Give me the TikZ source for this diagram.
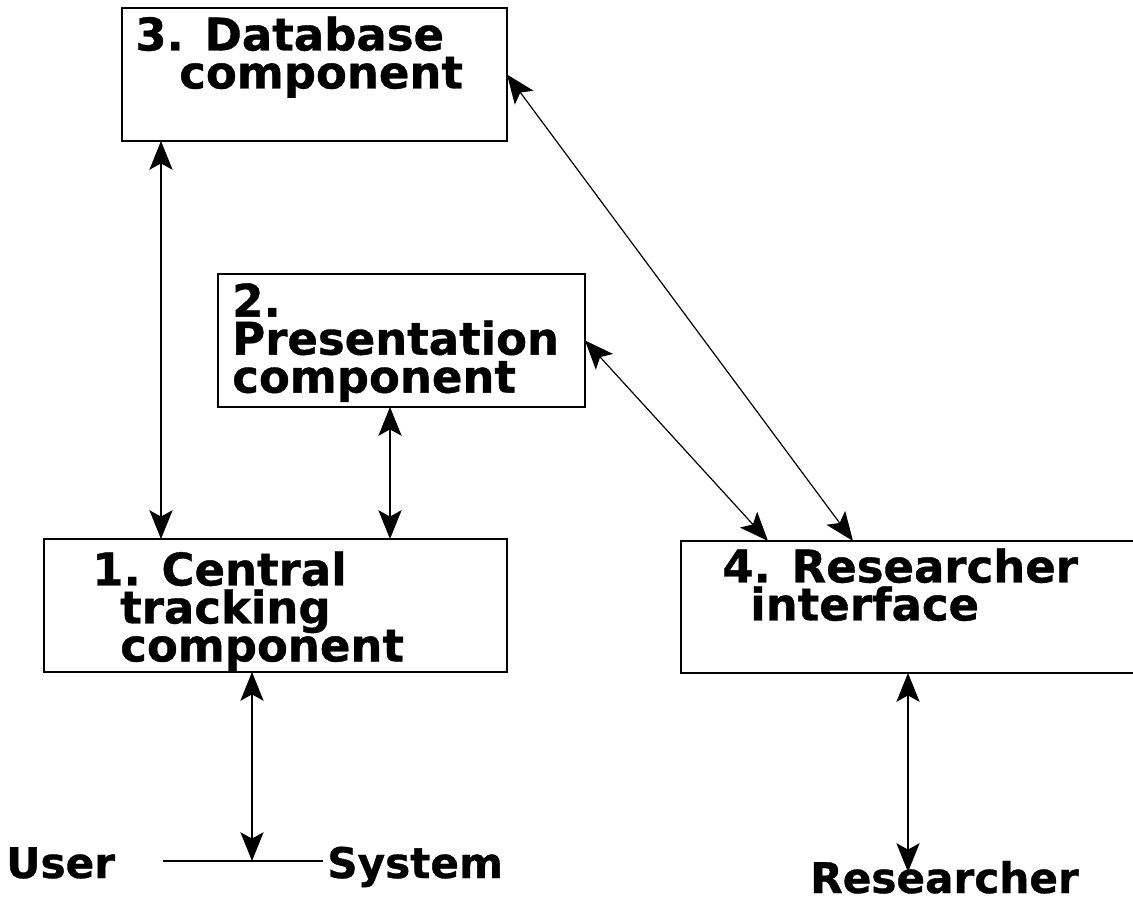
\documentclass[tikz,border=0pt]{standalone}
\usepackage{fontspec}
\setmainfont{DejaVu Sans}[BoldFeatures={FakeBold=0.8}]
\usetikzlibrary{arrows.meta}

\newlength{\du}
\setlength{\du}{0.025cm}
\newcommand{\compfont}{\fontsize{32}{27}\selectfont\bfseries\lineskiplimit=-40pt\relax}

\tikzset{
  compbox/.style={draw, line width=2\du, inner sep=0pt, outer sep=0pt, anchor=north west},
  comptext/.style={anchor=north west, inner sep=0pt, align=left, font=\compfont},
  actor/.style={anchor=base west, inner sep=0pt,
    font=\fontsize{30}{36}\selectfont\bfseries},
  link/.style={line width=1.2\du,
    {Stealth[length=0.72cm,width=0.58cm,inset=0.16cm]}-{Stealth[length=0.72cm,width=0.58cm,inset=0.16cm]}}
}

\begin{document}
\begin{tikzpicture}[yscale=-1]
\useasboundingbox (0\du,0\du) rectangle (1133\du,918\du);
% boxes
\node[compbox, minimum width=385\du, minimum height=133\du] (db) at (122\du,8\du) {};
\node[compbox, minimum width=367\du, minimum height=133\du] (pr) at (218\du,274\du) {};
\node[compbox, minimum width=463\du, minimum height=133\du] (ct) at (44\du,539\du) {};
\node[compbox, minimum width=470\du, minimum height=132\du] (ri) at (681\du,541\du) {};
% box texts
\node[comptext] (db-txt) at (135\du,16\du) {3. Database\\\hspace*{44\du}component};
\node[comptext] (pr-txt) at (232\du,283\du) {2.\\Presentation\\component};
\node[comptext] (ct-txt) at (92\du,551\du) {1. Central\\\hspace*{28\du}tracking\\\hspace*{28\du}component};
\node[comptext] (ri-txt) at (722\du,548\du) {4. Researcher\\\hspace*{28\du}interface};
% outside
\node[actor] (user) at (6\du,878\du) {User};
\node[actor] (sys) at (327\du,878\du) {System};
\node[actor] (res) at (810\du,893\du) {Researcher};
\coordinate (ln-a) at (163\du,861\du);
\coordinate (ln-b) at (323\du,861\du);
\coordinate (res-top) at (908\du,872\du);
% connectors
\draw[link] ([xshift=39\du]db.south west) -- ([xshift=39\du]db.south west |- ct.north);
\draw[link] ([xshift=172\du]pr.south west) -- ([xshift=172\du]pr.south west |- ct.north);
\draw[link] (db.east) -- ([xshift=172\du]ri.north west);
\draw[link] (pr.east) -- ([xshift=87\du]ri.north west);
\draw[link] ([xshift=208\du]ct.south west) -- ([xshift=208\du]ct.south west |- ln-a);
\draw[line width=1.2\du] (ln-a) -- (ln-b);
\draw[link] ([xshift=227\du]ri.south west) -- ([xshift=227\du]ri.south west |- res-top);
\end{tikzpicture}
\end{document}
